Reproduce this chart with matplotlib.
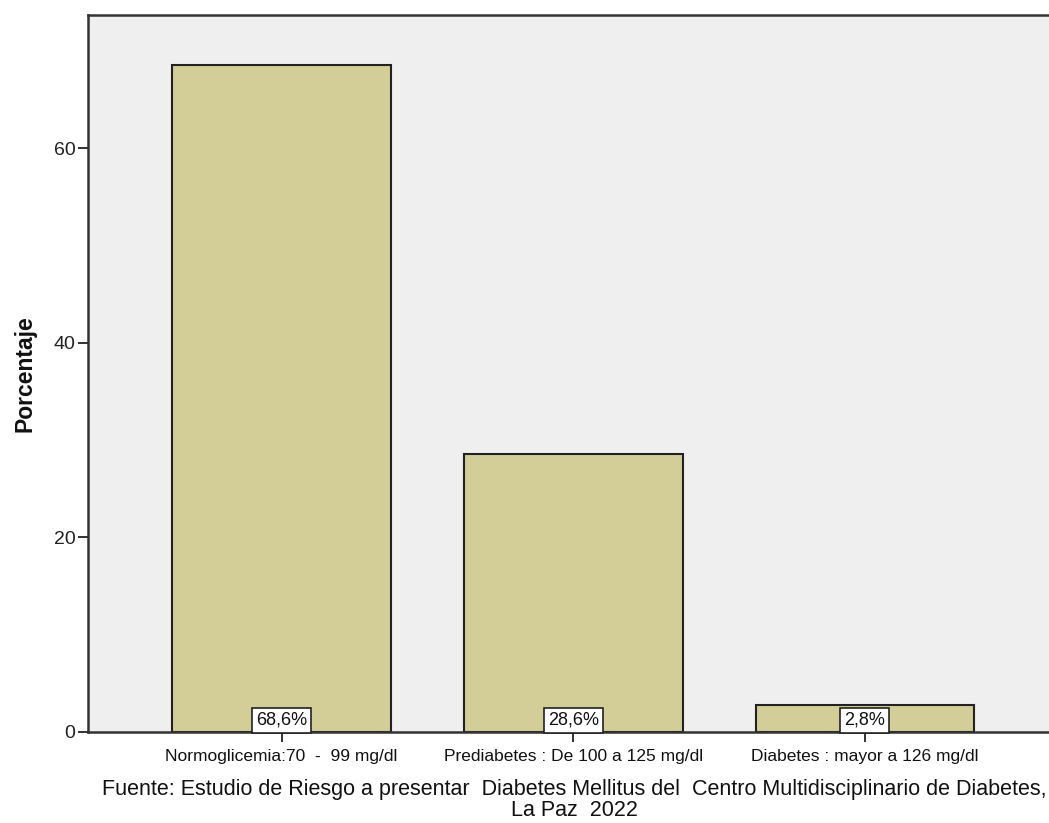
import matplotlib
matplotlib.use("Agg")
import matplotlib.pyplot as plt

categories = [
    "Normoglicemia:70  -  99 mg/dl",
    "Prediabetes : De 100 a 125 mg/dl",
    "Diabetes : mayor a 126 mg/dl",
]
percentages = [68.6, 28.6, 2.8]
value_labels = ["68,6%", "28,6%", "2,8%"]
y_ticks = [0, 20, 40, 60]
y_label = "Porcentaje"
source_note = ("Fuente: Estudio de Riesgo a presentar  Diabetes Mellitus del  "
               "Centro Multidisciplinario de Diabetes,\nLa Paz  2022")

plt.rcParams["font.family"] = ["Liberation Sans", "DejaVu Sans"]

W, H = 1049, 823
fig = plt.figure(figsize=(W / 100, H / 100), dpi=100)
left, right, top, bottom = 88, 1058.5, 15, 732
ax = fig.add_axes([left / W, 1 - bottom / H, (right - left) / W, (bottom - top) / H])

ax.set_facecolor("#EFEFEF")
x = list(range(len(categories)))
ax.bar(x, percentages, width=0.75, color="#D3CE97", edgecolor="#222222", linewidth=1.5, zorder=2)

for xi, lab in zip(x, value_labels):
    ax.text(xi, 0.35, lab, ha="center", va="bottom", fontsize=13, color="#111111", zorder=3,
            bbox=dict(boxstyle="square,pad=0.22", facecolor="white", edgecolor="#222222", linewidth=1.2))

ax.set_xlim(-0.664, 2.664)
ax.set_ylim(0, 73.7)
ax.set_yticks(y_ticks)
ax.set_yticklabels([str(t) for t in y_ticks], fontsize=14, color="#222222")
ax.set_xticks(x)
ax.set_xticklabels(categories, fontsize=12.5, color="#111111")
ax.tick_params(axis="both", direction="out", length=7, width=1.3, color="#222222")
ax.tick_params(axis="x", pad=5)
ax.tick_params(axis="y", pad=2)

for side in ["left", "top", "bottom"]:
    ax.spines[side].set_linewidth(1.8)
    ax.spines[side].set_color("#333333")
ax.spines["right"].set_visible(False)

ax.set_ylabel(y_label, fontsize=16.5, fontweight="bold", color="#111111", labelpad=12)

fig.text(574 / W, 1 - 779 / H, source_note, ha="center", va="top", fontsize=15.5,
         color="#111111", linespacing=1.0)

fig.savefig("out.png", dpi=100, facecolor="white")
